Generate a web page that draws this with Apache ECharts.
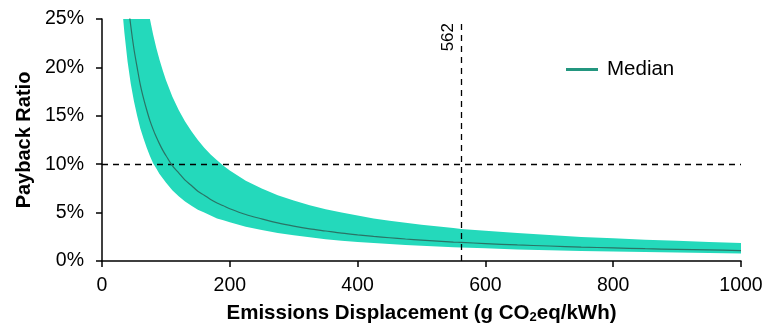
<!DOCTYPE html>
<html>
<head>
<meta charset="utf-8">
<script src="https://cdn.jsdelivr.net/npm/echarts@6/dist/echarts.min.js"></script>
<style>
  html, body { margin: 0; padding: 0; background: #fff; }
  #chart { width: 766px; height: 331px; }
</style>
</head>
<body>
<div id="chart"></div>
<script>
// Emissions displacement (g CO2eq/kWh)
const displacement = [31, 35, 40, 45, 50, 55, 60, 65, 70, 75, 80, 85, 90, 95, 100, 110, 120, 130, 140, 150,
  160, 170, 180, 190, 200, 225, 250, 275, 300, 325, 350, 375, 400, 425, 450, 475, 500, 550, 562, 600,
  650, 700, 750, 800, 850, 900, 950, 1000];
// Payback ratio (%) – lower bound of the range
const lowerBound = [26.6, 23.6, 20.6, 18.3, 16.5, 15.0, 13.7, 12.65, 11.7, 10.85, 10.1, 9.55, 9.0, 8.55, 8.1,
  7.3, 6.7, 6.15, 5.7, 5.3, 5.0, 4.7, 4.4, 4.2, 4.0, 3.55, 3.2, 2.9, 2.65, 2.45, 2.25, 2.1, 1.97, 1.85,
  1.75, 1.65, 1.57, 1.43, 1.4, 1.31, 1.2, 1.12, 1.04, 0.98, 0.92, 0.87, 0.82, 0.78];
// Payback ratio (%) – median
const medianRatio = [34.8, 31.0, 27.2, 24.3, 21.9, 20.0, 18.2, 16.8, 15.6, 14.5, 13.6, 12.8, 12.1, 11.45, 10.9,
  9.85, 9.1, 8.35, 7.8, 7.2, 6.8, 6.35, 6.0, 5.7, 5.4, 4.8, 4.35, 3.93, 3.6, 3.32, 3.1, 2.88, 2.7, 2.54,
  2.4, 2.27, 2.16, 1.96, 1.92, 1.8, 1.66, 1.55, 1.44, 1.35, 1.27, 1.2, 1.14, 1.08];
// Payback ratio (%) – upper bound of the range
const upperBound = [60.3, 53.4, 46.8, 41.6, 37.4, 34.0, 31.2, 28.8, 26.7, 25.0, 23.4, 22.0, 20.8, 19.7, 18.7,
  17.0, 15.6, 14.4, 13.4, 12.5, 11.7, 11.0, 10.4, 9.85, 9.35, 8.3, 7.5, 6.8, 6.25, 5.75, 5.35, 5.0, 4.7, 4.4,
  4.15, 3.94, 3.75, 3.4, 3.3, 3.12, 2.88, 2.68, 2.49, 2.34, 2.2, 2.08, 1.97, 1.87];
// Reference lines
const thresholdRatio = 10;
const gridIntensity = 562;

const FONT = 'Liberation Sans';
const BAND = '#24d9bb';
const chart = echarts.init(document.getElementById('chart'));

const bandRows = displacement.map((x, i) => [x, lowerBound[i], upperBound[i]]);
const medianPts = displacement.map((x, i) => [x, medianRatio[i]]);

// Shaded range between lower and upper bound, drawn as one clipped polygon
function renderBand(params, api) {
  if (params.dataIndex !== 0) return null;
  const top = bandRows.map(r => api.coord([r[0], r[2]]));
  const bottom = bandRows.map(r => api.coord([r[0], r[1]])).reverse();
  const cs = params.coordSys;
  return {
    type: 'group',
    clipPath: { type: 'rect', shape: { x: cs.x, y: cs.y, width: cs.width, height: cs.height } },
    children: [{
      type: 'polygon',
      shape: { points: top.concat(bottom) },
      style: { fill: BAND, stroke: null }
    }]
  };
}

chart.setOption({
  animation: false,
  textStyle: { fontFamily: FONT },
  grid: { left: 102, right: 25, top: 19, bottom: 70 },
  legend: {
    data: ['Median'],
    left: 561, top: 54,
    itemWidth: 32, itemHeight: 10, itemGap: 8,
    icon: 'path://M0,3.5 L32,3.5 L32,6.5 L0,6.5 Z',
    textStyle: { fontFamily: FONT, fontSize: 20.5, color: '#000', padding: [0, 0, 0, 4] }
  },
  xAxis: {
    type: 'value', min: 0, max: 1000, interval: 200, z: 10,
    name: 'Emissions Displacement (g CO{sub|2}eq/kWh)',
    nameLocation: 'middle', nameGap: 41,
    nameTextStyle: {
      fontFamily: FONT, fontSize: 20.5, fontWeight: 'bold', color: '#000',
      rich: { sub: { fontFamily: FONT, fontSize: 13, fontWeight: 'bold', color: '#000', verticalAlign: 'bottom', padding: [9, 0, 0, 0] } }
    },
    axisLine: { lineStyle: { color: '#000', width: 1.5 } },
    axisTick: { show: true, length: 6, lineStyle: { color: '#000', width: 1.5 } },
    axisLabel: { fontFamily: FONT, fontSize: 19.5, color: '#000', margin: 15, formatter: v => String(v) },
    splitLine: { show: false }
  },
  yAxis: {
    type: 'value', min: 0, max: 25, interval: 5, z: 10,
    name: 'Payback Ratio',
    nameLocation: 'middle', nameGap: 68,
    nameTextStyle: { fontFamily: FONT, fontSize: 20, fontWeight: 'bold', color: '#000' },
    axisLine: { show: true, lineStyle: { color: '#000', width: 1.5 } },
    axisTick: { show: true, length: 6, lineStyle: { color: '#000', width: 1.5 } },
    axisLabel: { fontFamily: FONT, fontSize: 19.5, color: '#000', margin: 18, formatter: v => v + '%' },
    splitLine: { show: false }
  },
  series: [
    {
      name: 'range', type: 'custom', data: bandRows,
      encode: { x: 0, y: [1, 2] },
      renderItem: renderBand, silent: true, z: 1
    },
    {
      name: 'Median', type: 'line', data: medianPts,
      symbol: 'none', smooth: 0.3, clip: true,
      color: '#23967f',
      lineStyle: { color: '#2a7466', width: 1.2 },
      z: 5,
      markLine: {
        silent: true, symbol: 'none',
        lineStyle: { color: '#000', type: [6, 5], width: 1.3 },
        data: [
          { yAxis: thresholdRatio, label: { show: false } },
          {
            xAxis: gridIntensity,
            label: {
              show: true, position: 'insideEndTop', formatter: String(gridIntensity),
              fontFamily: FONT, fontSize: 17, color: '#000', distance: 4
            }
          }
        ]
      }
    }
  ]
});
</script>
</body>
</html>
